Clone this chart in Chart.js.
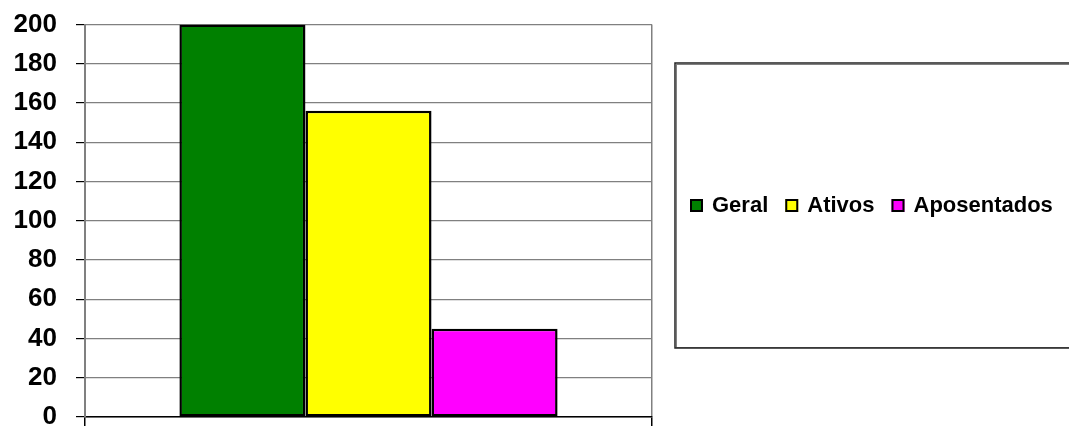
<!DOCTYPE html>
<html>
<head>
<meta charset="utf-8">
<script src="https://cdn.jsdelivr.net/npm/chart.js@4/dist/chart.umd.min.js"></script>
<style>
  html, body { margin: 0; padding: 0; background: #fff; }
  #wrap { width: 1069px; height: 426px; position: relative; }
</style>
</head>
<body>
<div id="wrap"><canvas id="c" width="1069" height="426"></canvas></div>
<script>
// Chart data
const categories = [''];
const seriesNames = ['Geral', 'Ativos', 'Aposentados'];
const seriesValues = [200, 156, 45];
const yTicks = [0, 20, 40, 60, 80, 100, 120, 140, 160, 180, 200];

const seriesColors = ['#008000', '#FFFF00', '#FF00FF'];
const FONT = '"Liberation Sans", Arial, sans-serif';

// Boxed horizontal legend drawn to the right of the plot
const boxedLegend = {
  id: 'boxedLegend',
  afterDraw(chart) {
    const ctx = chart.ctx;
    ctx.save();
    // frame
    ctx.strokeStyle = '#808080';
    ctx.lineWidth = 1;
    ctx.strokeRect(676.5, 64.5, 420, 283);
    ctx.strokeStyle = '#222';
    ctx.lineWidth = 1.5;
    ctx.strokeRect(675, 63, 422, 285);

    ctx.font = 'bold 22px ' + FONT;
    ctx.textBaseline = 'middle';
    ctx.textAlign = 'left';
    let x = 690;
    const cy = 205.5;
    chart.data.datasets.forEach((ds) => {
      ctx.fillStyle = ds.backgroundColor;
      ctx.fillRect(x, cy - 6.5, 13, 13);
      ctx.strokeStyle = '#000';
      ctx.lineWidth = 2;
      ctx.strokeRect(x + 1, cy - 5.5, 11, 11);
      ctx.fillStyle = '#000';
      ctx.fillText(ds.label, x + 22, cy);
      x += 22 + ctx.measureText(ds.label).width + 17;
    });
    ctx.restore();
  }
};

new Chart(document.getElementById('c'), {
  type: 'bar',
  data: {
    labels: categories,
    datasets: seriesNames.map((name, i) => ({
      label: name,
      data: [seriesValues[i]],
      backgroundColor: seriesColors[i],
      borderColor: '#000',
      borderWidth: 2.5,
      borderSkipped: false,
      barPercentage: 1,
      categoryPercentage: 0.667
    }))
  },
  options: {
    responsive: false,
    animation: false,
    events: [],
    layout: { padding: { left: 0, top: 24.5, right: 417, bottom: 0 } },
    plugins: {
      legend: { display: false },
      tooltip: { enabled: false },
      title: { display: false }
    },
    scales: {
      x: {
        offset: true,
        ticks: { display: false },
        grid: {
          offset: true,
          color: '#808080',
          lineWidth: 1.5,
          drawTicks: true,
          tickLength: 9,
          tickColor: '#000'
        },
        border: { color: '#000', width: 1.5 }
      },
      y: {
        min: 0,
        max: 200,
        afterBuildTicks(scale) {
          scale.ticks = yTicks.map(v => ({ value: v }));
        },
        afterFit(scale) {
          scale.width = 85;
          scale.paddingTop = 0;
          scale.paddingBottom = 0;
        },
        ticks: {
          color: '#000',
          padding: 19,
          font: { family: FONT, size: 26, weight: 'bold' }
        },
        grid: {
          color: '#808080',
          lineWidth: 1.2,
          drawTicks: true,
          tickLength: 9,
          tickColor: '#000'
        },
        border: { color: '#808080', width: 2 }
      }
    }
  },
  plugins: [boxedLegend]
});
</script>
</body>
</html>
